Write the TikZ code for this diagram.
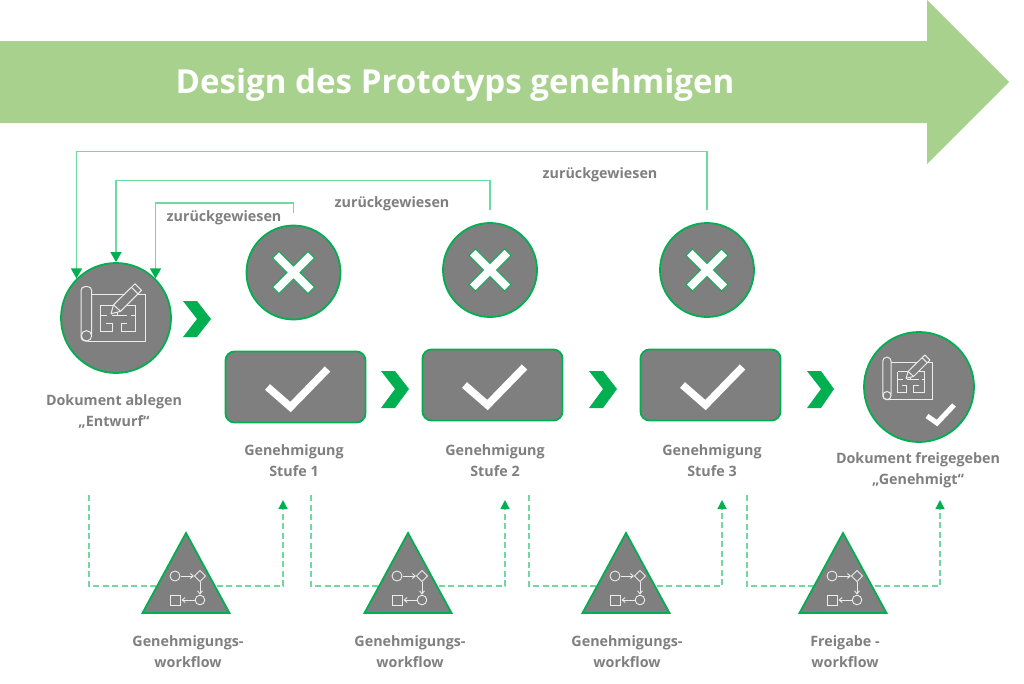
\documentclass[tikz,border=0pt]{standalone}
\usepackage{fontspec}
\setmainfont{Open Sans}
\usetikzlibrary{arrows.meta,shapes.geometric}
\definecolor{grn}{HTML}{00B050}
\definecolor{lgrn}{HTML}{6FD9A0}
\definecolor{gry}{HTML}{7F7F7F}
\definecolor{band}{HTML}{A9D18E}
\tikzset{
  disc/.style={circle,draw=grn,fill=gry,line width=1.8pt,inner sep=0pt,minimum size=#1},
  okbox/.style={rectangle,rounded corners=9pt,draw=grn,fill=gry,line width=1.8pt,minimum width=140pt,minimum height=71pt,inner sep=0pt},
  tri/.style={draw=grn,fill=gry,line width=1.8pt,line join=miter},
  lbl/.style={text=gry,font=\bfseries\fontsize{14.3}{21}\selectfont,align=center,inner sep=0pt},
  back/.style={draw=lgrn,line width=1.2pt,-{Triangle[length=10pt,width=11pt,color=grn]}},
  flow/.style={draw=lgrn,line width=1.2pt,dash pattern=on 6pt off 3.5pt,-{Triangle[length=9pt,width=9pt,color=grn]}},
  chev/.style={fill=grn,draw=none},
  iconline/.style={draw=white!85!gry,line width=#1,fill=none},
  iconline/.default=1pt,
  blueprint/.pic={
    \draw[iconline,rounded corners=4pt] (-21.3,21) -- (-21.3,-26.7) -- (-32,-26.7) -- (-32,27.7) -- (-24,27.7);
    \draw[iconline] (-26.5,22.5) circle (5.2);
    \draw[iconline] (-21.3,-19.3) -- (32,-19.3) -- (32,27.7) -- (-25,27.7);
    \draw[iconline] (-13,-8.3) -- (22,-8.3) -- (22,18.3) -- (8,18.3) -- (8,10) -- (14,10);
    \draw[iconline] (-13,-8.3) -- (-13,18.3) -- (-1,18.3) -- (-1,10) -- (-7,10);
    \draw[iconline] (-13,2) -- (-6,2) (-1,2) -- (14,2) (22,2) -- (18,2) (4,2) -- (4,-8.3);
    \draw[iconline,fill=gry,line join=round] (-2,0.5) -- (0.5,-8.5) -- (22,-29.5) -- (28.5,-23) -- (7.5,-2) -- cycle;
    \draw[iconline] (0.5,-8.5) -- (7.5,-2) (18.5,-26) -- (25,-19.5);
  },
  cross/.pic={
    \draw[fill=white,draw=grn,line width=0.8pt,line join=miter]
      (-14.5,-21) -- (0,-6.5) -- (14.5,-21) -- (21,-14.5) -- (6.5,0) -- (21,14.5) -- (14.5,21)
      -- (0,6.5) -- (-14.5,21) -- (-21,14.5) -- (-6.5,0) -- (-21,-14.5) -- cycle;
  },
  tick/.pic={
    \draw[white,line width=7.5pt,line join=miter] (-28,0) -- (-5,20) -- (32,-18);
  },
  wf/.pic={
    \draw[iconline=0.9pt] (-11,43) circle (5);
    \draw[iconline=0.9pt] (14,37.5) -- (19.5,43) -- (14,48.5) -- (8.5,43) -- cycle;
    \draw[iconline=0.9pt] (14,67) circle (4.8);
    \draw[iconline=0.9pt] (-16,62) rectangle (-6,72);
    \draw[iconline=0.9pt,-{Straight Barb[length=3pt,width=5pt]}] (-5,43) -- (8,43);
    \draw[iconline=0.9pt,-{Straight Barb[length=3pt,width=5pt]}] (14,49) -- (14,61.5);
    \draw[iconline=0.9pt,-{Straight Barb[length=3pt,width=5pt]}] (9,67) -- (-4.5,67);
  }
}
\begin{document}
\begin{tikzpicture}[x=1pt,y=-1pt]
\useasboundingbox (0,0) rectangle (1024,683);
% banner
\fill[band] (0,41) -- (927,41) -- (927,0) -- (1009,82) -- (927,164) -- (927,123) -- (0,123) -- cycle;
\node[text=white,font=\bfseries\fontsize{33.1}{36}\selectfont,inner sep=0pt] (title) at (455,85) {Design des Prototyps genehmigen};
% main nodes
\node[disc=110pt] (doc) at (116,318) {};
\pic at (113,313.3) {blueprint};
\node[disc=94pt] (x1) at (293.5,272.5) {};
\node[disc=94pt] (x2) at (490,270) {};
\node[disc=94pt] (x3) at (707,270) {};
\pic at (293.5,272.5) {cross};
\pic at (490,270) {cross};
\pic at (707,270) {cross};
\node[okbox] (ok1) at (295.5,387) {};
\node[okbox] (ok2) at (492.5,385) {};
\node[okbox] (ok3) at (710.5,385) {};
\pic at (ok1) {tick};
\pic at (ok2) {tick};
\pic at (ok3) {tick};
\node[disc=110pt] (done) at (919,387) {};
\pic[scale=0.78] at (907.7,378) {blueprint};
\draw[white,line width=5pt,line join=miter] (927,416) -- (937,423) -- (954,405);
% chevrons
\fill[chev] (183,301) -- (197,301) -- (211,319) -- (197,337) -- (183,337) -- (197,319) -- cycle;
\fill[chev] (381,371) -- (395,371) -- (409,389) -- (395,408) -- (381,408) -- (395,389) -- cycle;
\fill[chev] (589,371) -- (603,371) -- (617,389) -- (603,408) -- (589,408) -- (603,389) -- cycle;
\fill[chev] (807,371) -- (821,371) -- (834,389) -- (821,408) -- (807,408) -- (821,389) -- cycle;
% rejected lines
\coordinate (r1) at (293.5,213);
\coordinate (b1) at (293.5,203);
\coordinate (r2) at (490,210);
\coordinate (b2) at (490,180.5);
\coordinate (r3) at (707,210);
\coordinate (b3) at (707,151.5);
\draw[back] (r1) -- (b1) -| (doc.45);
\draw[back] (r2) -- (b2) -| (doc.90);
\draw[back] (r3) -- (b3) -| (doc.135);
% workflow lines
\foreach \n/\xa/\xb in {1/89/283,2/311/505,3/529/722,4/747/940}{
  \coordinate (fs\n) at (\xa,495);
  \coordinate (fc\n) at (\xa,586);
  \coordinate (fe\n) at (\xb,500);
  \draw[flow] (fs\n) -- (fc\n) -| (fe\n);
}
% triangles
\foreach \n/\ax in {1/186,2/408,3/626,4/843}{
  \draw[tri] (\ax,533) coordinate (t\n) -- (\ax+43.5,613) -- (\ax-43.5,613) -- cycle;
  \pic at (t\n) {wf};
}
% labels
\node[lbl] (z1) at (224,218) {zurückgewiesen};
\node[lbl] (z2) at (392,203.5) {zurückgewiesen};
\node[lbl] (z3) at (600,174.5) {zurückgewiesen};
\node[lbl] (ldoc) at (114,411) {Dokument ablegen\\„Entwurf“};
\node[lbl] (l1) at (294,460.5) {Genehmigung\\Stufe 1};
\node[lbl] (l2) at (495,460.5) {Genehmigung\\Stufe 2};
\node[lbl] (l3) at (712,460.5) {Genehmigung\\Stufe 3};
\node[lbl] (ldone) at (918,470.5) {Dokument freigegeben\\„Genehmigt“};
\node[lbl] (w1) at (188,652) {Genehmigungs-\\workflow};
\node[lbl] (w2) at (410,652) {Genehmigungs-\\workflow};
\node[lbl] (w3) at (627,652) {Genehmigungs-\\workflow};
\node[lbl] (w4) at (845,652) {Freigabe -\\workflow};
\end{tikzpicture}
\end{document}
